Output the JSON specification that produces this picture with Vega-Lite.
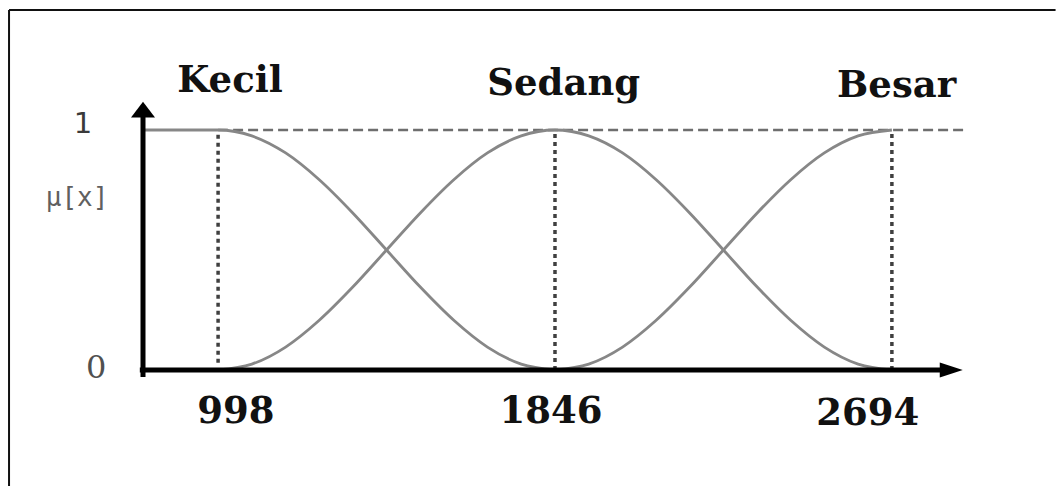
{
  "$schema": "https://vega.github.io/schema/vega-lite/v6.json",
  "width": 820,
  "height": 268,
  "autosize": {"type": "none"},
  "padding": {"left": 143, "top": 102, "right": 93, "bottom": 116},
  "background": "white",
  "config": {"view": {"stroke": null}},
  "datasets": {
    "curves": [
      {"s": "Kecil", "x": 809, "mu": 1},
      {"s": "Kecil", "x": 998, "mu": 1},
      {"s": "Kecil", "x": 1083, "mu": 0.9755},
      {"s": "Kecil", "x": 1168, "mu": 0.9045},
      {"s": "Kecil", "x": 1252, "mu": 0.7939},
      {"s": "Kecil", "x": 1337, "mu": 0.6545},
      {"s": "Kecil", "x": 1422, "mu": 0.5},
      {"s": "Kecil", "x": 1507, "mu": 0.3455},
      {"s": "Kecil", "x": 1592, "mu": 0.2061},
      {"s": "Kecil", "x": 1676, "mu": 0.0955},
      {"s": "Kecil", "x": 1761, "mu": 0.0245},
      {"s": "Kecil", "x": 1846, "mu": 0},
      {"s": "Sedang", "x": 998, "mu": 0},
      {"s": "Sedang", "x": 1083, "mu": 0.0245},
      {"s": "Sedang", "x": 1168, "mu": 0.0955},
      {"s": "Sedang", "x": 1252, "mu": 0.2061},
      {"s": "Sedang", "x": 1337, "mu": 0.3455},
      {"s": "Sedang", "x": 1422, "mu": 0.5},
      {"s": "Sedang", "x": 1507, "mu": 0.6545},
      {"s": "Sedang", "x": 1592, "mu": 0.7939},
      {"s": "Sedang", "x": 1676, "mu": 0.9045},
      {"s": "Sedang", "x": 1761, "mu": 0.9755},
      {"s": "Sedang", "x": 1846, "mu": 1},
      {"s": "Sedang", "x": 1931, "mu": 0.9755},
      {"s": "Sedang", "x": 2016, "mu": 0.9045},
      {"s": "Sedang", "x": 2100, "mu": 0.7939},
      {"s": "Sedang", "x": 2185, "mu": 0.6545},
      {"s": "Sedang", "x": 2270, "mu": 0.5},
      {"s": "Sedang", "x": 2355, "mu": 0.3455},
      {"s": "Sedang", "x": 2440, "mu": 0.2061},
      {"s": "Sedang", "x": 2524, "mu": 0.0955},
      {"s": "Sedang", "x": 2609, "mu": 0.0245},
      {"s": "Sedang", "x": 2694, "mu": 0},
      {"s": "Besar", "x": 1846, "mu": 0},
      {"s": "Besar", "x": 1931, "mu": 0.0245},
      {"s": "Besar", "x": 2016, "mu": 0.0955},
      {"s": "Besar", "x": 2100, "mu": 0.2061},
      {"s": "Besar", "x": 2185, "mu": 0.3455},
      {"s": "Besar", "x": 2270, "mu": 0.5},
      {"s": "Besar", "x": 2355, "mu": 0.6545},
      {"s": "Besar", "x": 2440, "mu": 0.7939},
      {"s": "Besar", "x": 2524, "mu": 0.9045},
      {"s": "Besar", "x": 2609, "mu": 0.9755},
      {"s": "Besar", "x": 2694, "mu": 1}
    ],
    "guides": [
      {"role": "border", "x": 471.8, "x2": 3106, "y": 1.5, "y2": 1.5},
      {"role": "border", "x": 471.8, "x2": 471.8, "y": 1.5, "y2": -0.483},
      {"role": "dash", "x": 998, "x2": 2885, "y": 1, "y2": 1},
      {"role": "dot", "x": 998, "x2": 998, "y": 0.03, "y2": 1},
      {"role": "dot", "x": 1846, "x2": 1846, "y": 0, "y2": 1},
      {"role": "dot", "x": 2694, "x2": 2694, "y": 0, "y2": 1},
      {"role": "axis", "x": 801, "x2": 2827, "y": 0, "y2": 0},
      {"role": "axis", "x": 809, "x2": 809, "y": -0.029, "y2": 1.083}
    ],
    "arrows": [
      {"dir": "right", "x": 2843.5, "y": 0},
      {"dir": "up", "x": 809, "y": 1.085}
    ],
    "labels": [
      {"kind": "set", "text": "Kecil", "x": 1028, "y": 1.158},
      {"kind": "set", "text": "Sedang", "x": 1868, "y": 1.146},
      {"kind": "set", "text": "Besar", "x": 2706, "y": 1.1375},
      {"kind": "set", "text": "998", "x": 1043, "y": -0.221},
      {"kind": "set", "text": "1846", "x": 1836, "y": -0.221},
      {"kind": "set", "text": "2694", "x": 2633, "y": -0.229},
      {"kind": "one", "text": "1", "x": 658, "y": 0.9875},
      {"kind": "zero", "text": "0", "x": 691, "y": -0.033},
      {"kind": "mu", "text": "μ[x]", "x": 643, "y": 0.717}
    ]
  },
  "layer": [
    {
      "data": {"name": "guides"},
      "transform": [{"filter": "datum.role === 'border'"}],
      "mark": {"type": "rule", "color": "#111111", "strokeWidth": 2},
      "encoding": {
        "x": {"field": "x", "type": "quantitative", "scale": {"domain": [809, 2873], "nice": false, "zero": false}, "axis": null},
        "x2": {"field": "x2"},
        "y": {"field": "y", "type": "quantitative", "scale": {"domain": [0, 1.1167], "nice": false, "zero": false}, "axis": null},
        "y2": {"field": "y2"}
      }
    },
    {
      "data": {"name": "guides"},
      "transform": [{"filter": "datum.role === 'dash'"}],
      "mark": {"type": "rule", "color": "#6e6e6e", "strokeWidth": 2.5, "strokeDash": [10, 5]},
      "encoding": {
        "x": {"field": "x", "type": "quantitative"},
        "x2": {"field": "x2"},
        "y": {"field": "y", "type": "quantitative"},
        "y2": {"field": "y2"}
      }
    },
    {
      "data": {"name": "guides"},
      "transform": [{"filter": "datum.role === 'dot'"}],
      "mark": {"type": "rule", "color": "#404040", "strokeWidth": 3.5, "strokeDash": [4, 4]},
      "encoding": {
        "x": {"field": "x", "type": "quantitative"},
        "x2": {"field": "x2"},
        "y": {"field": "y", "type": "quantitative"},
        "y2": {"field": "y2"}
      }
    },
    {
      "data": {"name": "curves"},
      "mark": {"type": "line", "color": "#878787", "strokeWidth": 2.8, "interpolate": "monotone"},
      "encoding": {
        "x": {"field": "x", "type": "quantitative"},
        "y": {"field": "mu", "type": "quantitative"},
        "detail": {"field": "s"}
      }
    },
    {
      "data": {"name": "guides"},
      "transform": [{"filter": "datum.role === 'axis'"}],
      "mark": {"type": "rule", "color": "#000000", "strokeWidth": 5},
      "encoding": {
        "x": {"field": "x", "type": "quantitative"},
        "x2": {"field": "x2"},
        "y": {"field": "y", "type": "quantitative"},
        "y2": {"field": "y2"}
      }
    },
    {
      "data": {"name": "arrows"},
      "transform": [{"filter": "datum.dir === 'right'"}],
      "mark": {"type": "point", "shape": "M-1,-0.65L1,0L-1,0.65Z", "filled": true, "color": "#000000", "opacity": 1, "size": 529},
      "encoding": {
        "x": {"field": "x", "type": "quantitative"},
        "y": {"field": "y", "type": "quantitative"}
      }
    },
    {
      "data": {"name": "arrows"},
      "transform": [{"filter": "datum.dir === 'up'"}],
      "mark": {"type": "point", "shape": "M-1,0.65L0,-0.65L1,0.65Z", "filled": true, "color": "#000000", "opacity": 1, "size": 576},
      "encoding": {
        "x": {"field": "x", "type": "quantitative"},
        "y": {"field": "y", "type": "quantitative"}
      }
    },
    {
      "data": {"name": "labels"},
      "transform": [{"filter": "datum.kind === 'set'"}],
      "mark": {"type": "text", "font": "DejaVu Serif", "fontWeight": "bold", "fontSize": 37, "color": "#111111", "align": "center", "baseline": "alphabetic"},
      "encoding": {
        "x": {"field": "x", "type": "quantitative"},
        "y": {"field": "y", "type": "quantitative"},
        "text": {"field": "text"}
      }
    },
    {
      "data": {"name": "labels"},
      "transform": [{"filter": "datum.kind === 'one'"}],
      "mark": {"type": "text", "font": "DejaVu Sans", "fontSize": 29, "color": "#3a3a3a", "align": "center", "baseline": "alphabetic"},
      "encoding": {
        "x": {"field": "x", "type": "quantitative"},
        "y": {"field": "y", "type": "quantitative"},
        "text": {"field": "text"}
      }
    },
    {
      "data": {"name": "labels"},
      "transform": [{"filter": "datum.kind === 'zero'"}],
      "mark": {"type": "text", "font": "DejaVu Serif", "fontSize": 32, "color": "#505050", "align": "center", "baseline": "alphabetic"},
      "encoding": {
        "x": {"field": "x", "type": "quantitative"},
        "y": {"field": "y", "type": "quantitative"},
        "text": {"field": "text"}
      }
    },
    {
      "data": {"name": "labels"},
      "transform": [{"filter": "datum.kind === 'mu'"}],
      "mark": {"type": "text", "font": "DejaVu Sans Mono", "fontSize": 26, "color": "#606060", "align": "center", "baseline": "middle"},
      "encoding": {
        "x": {"field": "x", "type": "quantitative"},
        "y": {"field": "y", "type": "quantitative"},
        "text": {"field": "text"}
      }
    }
  ]
}
